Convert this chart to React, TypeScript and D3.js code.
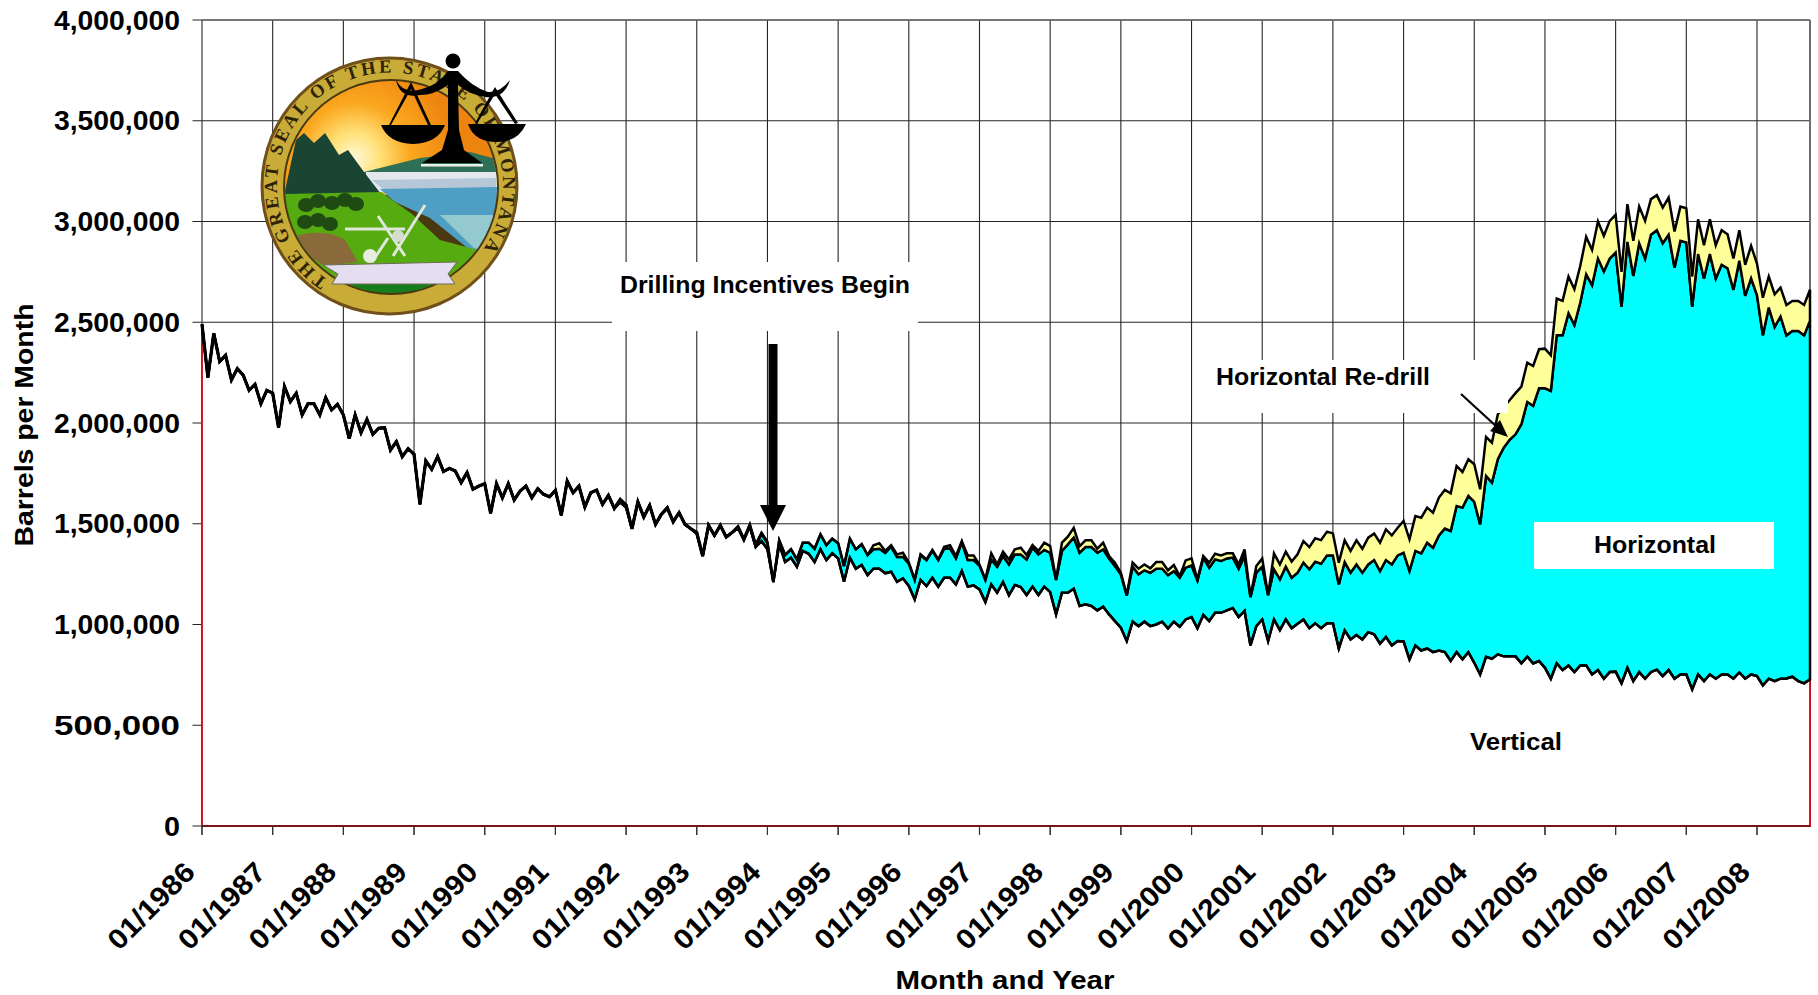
import React from "react";
import * as d3 from "d3";

// Monthly levels, thousand barrels per month (cumulative tops of each band)
const verticalTop = [
  2490,2225,2445,2305,2336,2214,2270,2237,2162,2192,2096,2162,
  2148,1977,2181,2106,2148,2040,2096,2096,2040,2126,2065,2093,
  2040,1922,2040,1952,2018,1944,1974,1977,1866,1908,1833,1873,
  1845,1596,1812,1770,1833,1759,1775,1762,1704,1754,1671,1687,
  1699,1552,1699,1629,1699,1618,1662,1687,1629,1674,1646,1634,
  1666,1542,1712,1654,1687,1583,1654,1667,1596,1641,1576,1606,
  1580,1475,1609,1533,1591,1497,1547,1575,1510,1555,1497,1475,
  1450,1340,1492,1442,1492,1434,1456,1478,1422,1485,1385,1414,
  1373,1211,1398,1310,1331,1287,1365,1351,1310,1373,1320,1353,
  1328,1212,1331,1277,1295,1245,1277,1277,1254,1262,1212,1229,
  1191,1125,1221,1191,1232,1188,1232,1232,1199,1265,1188,1194,
  1174,1111,1199,1158,1211,1145,1196,1186,1146,1188,1146,1188,
  1161,1050,1158,1158,1178,1092,1100,1092,1070,1088,1050,1017,
  984,918,1014,992,1014,992,1000,1014,981,1014,989,1025,
  1037,981,1047,1017,1058,1058,1070,1082,1037,1067,896,992,
  1025,918,1025,972,1025,982,1004,1025,982,1006,982,1006,
  1006,881,971,926,948,926,962,951,905,938,896,918,
  916,827,896,871,881,863,871,863,819,863,827,863,
  810,752,840,830,852,842,842,842,807,840,807,819,
  785,731,807,774,797,764,797,797,752,774,731,764,
  766,708,785,719,764,731,764,776,744,774,731,752,
  752,678,752,719,752,731,752,752,731,762,731,752,
  744,698,731,719,731,732,741,719,708,728,
];
const horizontalTop = [
  2490,2225,2445,2305,2336,2214,2270,2237,2162,2192,2096,2162,
  2148,1977,2181,2106,2148,2040,2096,2096,2040,2126,2065,2093,
  2040,1922,2040,1952,2018,1944,1974,1977,1866,1908,1833,1873,
  1845,1596,1812,1770,1833,1759,1775,1762,1704,1754,1671,1687,
  1699,1552,1699,1629,1699,1618,1662,1687,1629,1674,1646,1634,
  1666,1542,1712,1654,1687,1583,1654,1667,1596,1641,1576,1621,
  1593,1475,1609,1533,1591,1497,1547,1580,1510,1555,1497,1475,
  1456,1340,1492,1442,1492,1434,1456,1485,1422,1492,1393,1452,
  1406,1211,1418,1345,1373,1323,1406,1406,1376,1447,1394,1426,
  1403,1290,1426,1373,1398,1345,1373,1376,1356,1386,1335,1336,
  1302,1221,1345,1320,1366,1320,1376,1378,1328,1409,1320,1320,
  1293,1221,1323,1287,1340,1298,1348,1348,1323,1381,1348,1370,
  1356,1221,1365,1398,1431,1356,1384,1384,1356,1373,1327,1290,
  1249,1144,1287,1249,1269,1257,1277,1277,1245,1265,1232,1282,
  1293,1219,1332,1282,1323,1315,1328,1332,1277,1340,1136,1257,
  1287,1145,1274,1224,1287,1232,1257,1307,1274,1312,1302,1343,
  1343,1199,1310,1257,1298,1257,1298,1320,1265,1320,1298,1343,
  1356,1265,1365,1353,1406,1381,1442,1476,1464,1588,1580,1638,
  1608,1497,1737,1704,1820,1878,1916,1944,1994,2104,2085,2172,
  2172,2159,2435,2435,2545,2487,2598,2738,2684,2816,2752,2816,
  2846,2576,2899,2730,2892,2816,2934,2957,2892,2934,2771,2904,
  2896,2576,2838,2717,2838,2717,2785,2768,2661,2805,2631,2718,
  2634,2435,2573,2477,2528,2435,2457,2457,2435,2507,
];
const redrillTop = [
  2490,2225,2445,2305,2336,2214,2270,2237,2162,2192,2096,2162,
  2148,1977,2181,2106,2148,2040,2096,2096,2040,2126,2065,2093,
  2040,1922,2040,1952,2018,1944,1974,1977,1866,1908,1833,1873,
  1845,1596,1812,1770,1833,1759,1775,1762,1704,1754,1671,1687,
  1699,1552,1699,1629,1699,1618,1662,1687,1629,1674,1646,1634,
  1666,1542,1712,1654,1687,1583,1654,1667,1596,1641,1576,1621,
  1593,1475,1609,1533,1591,1497,1547,1580,1510,1555,1497,1475,
  1456,1340,1492,1442,1492,1434,1456,1485,1422,1492,1393,1452,
  1406,1211,1418,1345,1373,1323,1406,1406,1376,1447,1394,1426,
  1403,1290,1426,1373,1398,1345,1393,1403,1365,1393,1348,1356,
  1307,1224,1348,1323,1370,1323,1386,1393,1340,1414,1343,1343,
  1298,1224,1353,1298,1361,1323,1373,1381,1345,1394,1365,1406,
  1389,1224,1406,1436,1480,1389,1418,1418,1376,1406,1340,1307,
  1257,1146,1307,1277,1298,1279,1310,1310,1269,1295,1240,1318,
  1328,1224,1340,1307,1351,1343,1353,1353,1298,1373,1138,1290,
  1327,1145,1353,1298,1361,1312,1348,1414,1384,1428,1419,1461,
  1452,1307,1418,1365,1418,1376,1431,1451,1406,1472,1442,1480,
  1514,1423,1538,1530,1580,1555,1630,1668,1651,1787,1757,1820,
  1795,1671,1931,1902,2043,2080,2113,2148,2181,2300,2283,2366,
  2369,2336,2618,2606,2727,2664,2780,2924,2859,3000,2929,3003,
  3033,2750,3086,2904,3074,3003,3111,3131,3069,3119,2950,3074,
  3066,2727,3011,2882,3011,2882,2957,2937,2816,2957,2785,2879,
  2791,2622,2727,2639,2672,2586,2606,2606,2586,2661,
];
const yearTicks = [1986,1987,1988,1989,1990,1991,1992,1993,1994,1995,1996,1997,1998,1999,2000,2001,2002,2003,2004,2005,2006,2007,2008];
const valueTicks = [0,500000,1000000,1500000,2000000,2500000,3000000,3500000,4000000];
const seriesKeys = ["Vertical","Horizontal","Horizontal Re-drill"];
const seriesFill = ["#ffffff","#00ffff","#ffff99"];
const seriesStroke = ["#d8000f","#000000","#000000"];

const FONT = "'Liberation Sans', Arial, sans-serif";
const rows = verticalTop.map((v, i) => ({
  i,
  Vertical: v * 1000,
  Horizontal: (horizontalTop[i] - v) * 1000,
  "Horizontal Re-drill": (redrillTop[i] - horizontalTop[i]) * 1000,
}));

const x = d3.scalePoint<number>().domain(rows.map((r) => r.i)).range([202, 1810]);
const y = d3.scaleLinear().domain([0, 4000000]).range([826, 20]);
const stacked = d3.stack<any>().keys(seriesKeys)(rows);
const area = d3.area<any>().x((d) => x(d.data.i) as number).y0((d) => y(d[0])).y1((d) => y(d[1]));
const topLine = d3.line<any>().x((d) => x(d.data.i) as number).y((d) => y(d[1]));
const fmt = d3.format(",");

function Seal() {
  const ringText = "THE GREAT SEAL OF THE STATE OF MONTANA";
  return (
    <g>
      <defs>
        <radialGradient id="sky" gradientUnits="userSpaceOnUse" cx="355" cy="158" r="100">
          <stop offset="0" stopColor="#fff8d8" />
          <stop offset="0.25" stopColor="#ffe27a" />
          <stop offset="0.55" stopColor="#fba81f" />
          <stop offset="1" stopColor="#ee8410" />
        </radialGradient>
        <clipPath id="sealInner"><ellipse cx="391" cy="187" rx="106" ry="106" /></clipPath>
        <path id="sealRing" d="M 328 280 A 113 113 0 1 1 452 280" fill="none" />
      </defs>
      <ellipse cx="389.5" cy="186" rx="129" ry="129.5" fill="#6f4f1a" />
      <ellipse cx="389.5" cy="186" rx="126" ry="126.5" fill="#c9ab38" />
      <ellipse cx="391" cy="187" rx="108" ry="108" fill="#4a3810" />
      <g clipPath="url(#sealInner)">
        <rect x="280" y="75" width="225" height="120" fill="url(#sky)" />
        <path d="M 364 172 L 420 158 L 470 152 L 500 160 L 500 180 L 364 180 Z" fill="#2f6f55" />
        <rect x="366" y="172" width="136" height="20" fill="#e2e8ee" />
        <path d="M 372 180 L 496 178 L 496 188 L 384 190 Z" fill="#b6c7d8" />
        <path d="M 380 189 L 500 187 L 500 262 L 470 250 L 430 218 L 395 202 Z" fill="#4f9fc4" />
        <path d="M 440 215 L 500 215 L 500 255 L 474 248 Z" fill="#93c9cf" />
        <path d="M 284 195 L 296 140 L 304 133 L 314 143 L 325 133 L 339 155 L 348 150 L 364 172 L 381 194 Z" fill="#1a4533" />
        <path d="M 282 194 L 381 192 L 412 214 L 440 240 L 478 250 L 470 272 L 440 290 L 340 290 L 300 260 Z" fill="#55ab10" />
        <path d="M 340 272 L 450 272 L 430 296 L 360 296 Z" fill="#167d1c" />
        <path d="M 296 236 Q 325 228 345 240 L 358 262 L 325 266 L 302 252 Z" fill="#8a6a3a" />
        {[[306,205],[318,201],[332,203],[345,200],[356,204],[305,222],[318,220],[330,224]].map(([cx, cy], k) => (
          <ellipse key={k} cx={cx} cy={cy} rx="8" ry="7" fill="#1f4a14" />
        ))}
        <path d="M 345 229 L 405 229 M 378 216 L 405 256 M 425 205 L 393 256 M 372 262 L 388 238" stroke="#dfe6da" strokeWidth="3" fill="none" />
        <circle cx="370" cy="256" r="7" fill="#e6ece0" />
        <circle cx="398" cy="236" r="6" fill="#d6dcd0" />
      </g>
      <path d="M 323 265 L 457 262 L 448 274 L 455 284 L 386 284 L 332 284 L 338 274 Z" fill="#e4def0" stroke="#6f6a55" strokeWidth="1" />
      <text fontFamily="'Liberation Serif', serif" fontWeight="bold" fontSize="18.5" fill="#2e2308" letterSpacing="2.9">
        <textPath href="#sealRing">{ringText}</textPath>
      </text>
      <g fill="#000000" stroke="none">
        <path d="M 411 82 L 389 125 L 391 125 L 411 89 L 428 125 L 431 125 Z" />
        <path d="M 495 87 L 475 123 L 477 124 L 495 94 L 515 124 L 518 123 Z" />
        <circle cx="453" cy="61" r="7.5" />
        <path d="M 396 80 Q 404 95 422 89 Q 438 85 448 71 L 458 71 Q 472 87 488 92 Q 500 93 510 80 Q 504 99 486 97 Q 470 95 458 85 L 459 130 L 464 150 L 482 163 L 422 163 L 442 150 L 448 130 L 448 85 Q 434 95 420 95 Q 400 99 396 80 Z" />
        <path d="M 381 125 L 445 125 Q 438 143 413 144 Q 388 143 381 125 Z" />
        <path d="M 468 124 L 526 124 Q 518 142 497 142 Q 474 142 468 124 Z" />
      </g>
      <rect x="421" y="164" width="62" height="2.5" fill="#eef0ee" />
    </g>
  );
}

export default function App() {
  const last = rows.length - 1;
  const xEnd = x(last) as number;
  const earlyPath = d3.line<any>().x((d) => x(d.data.i) as number).y((d) => y(d[1])).defined((d: any) => d.data.i <= 96)(stacked[2]) as string;
  return (
    <svg width={1818} height={995} viewBox="0 0 1818 995" style={{ position: "absolute", left: 0, top: 0, background: "#fff" }} fontFamily={FONT} fontWeight="bold">
      {/* grid */}
      <g stroke="#000" strokeWidth="1.1" opacity="0.85">
        {valueTicks.map((t) => (
          <line key={t} x1={192.5} x2={xEnd} y1={y(t)} y2={y(t)} />
        ))}
        {yearTicks.map((yr, k) => {
          const px = x(k * 12) as number;
          return <line key={yr} x1={px} x2={px} y1={y(4000000)} y2={y(0) + 9} />;
        })}
        <line x1={xEnd} x2={xEnd} y1={y(4000000)} y2={y(0)} stroke="#555" strokeWidth="2" />
        <line x1={202} x2={xEnd} y1={y(4000000)} y2={y(4000000)} stroke="#555" strokeWidth="1.6" />
      </g>

      <Seal />

      {/* stacked bands */}
      {stacked.map((s, k) => (
        <path key={s.key} d={area(s) as string} fill={seriesFill[k]} stroke={seriesStroke[k]} strokeWidth={k === 0 ? 1.8 : 2.5} strokeLinejoin="miter" />
      ))}
      <path d={topLine(stacked[0]) as string} fill="none" stroke="#000" strokeWidth="2.5" />
      <path d={earlyPath} fill="none" stroke="#000" strokeWidth="3.2" />
      <line x1={202} x2={xEnd} y1={y(0)} y2={y(0)} stroke="#5a1a1a" strokeWidth="1.4" />

      {/* tick stubs below the white area */}
      <g stroke="#333" strokeWidth="1.1">
        {yearTicks.map((yr, k) => {
          const px = x(k * 12) as number;
          return <line key={yr} x1={px} x2={px} y1={y(0)} y2={y(0) + 9} />;
        })}
      </g>

      {/* annotation boxes */}
      <rect x={612} y={262} width={306} height={69} fill="#fff" />
      <rect x={1194} y={360} width={314} height={53} fill="#fff" />
      <rect x={1534} y={522} width={240} height={47} fill="#fff" />

      <text x={765} y={285} textAnchor="middle" dominantBaseline="central" fontSize="23.5" textLength={290} lengthAdjust="spacingAndGlyphs">Drilling Incentives Begin</text>
      <text x={1323} y={377} textAnchor="middle" dominantBaseline="central" fontSize="23.5" textLength={214} lengthAdjust="spacingAndGlyphs">Horizontal Re-drill</text>
      <text x={1655} y={545} textAnchor="middle" dominantBaseline="central" fontSize="23.5" textLength={122} lengthAdjust="spacingAndGlyphs">Horizontal</text>
      <text x={1516} y={742} textAnchor="middle" dominantBaseline="central" fontSize="23.5" textLength={92} lengthAdjust="spacingAndGlyphs">Vertical</text>

      {/* arrows */}
      <path d="M 768.5 344 L 777.5 344 L 777.5 505 L 786 505 L 773 531 L 760 505 L 768.5 505 Z" fill="#000" />
      <line x1={1461} y1={394} x2={1497} y2={427} stroke="#000" strokeWidth="2.2" />
      <path d="M 1508 437 L 1490 431 L 1500 420 Z" fill="#000" />

      {/* y labels */}
      {valueTicks.map((t) => (
        <text key={t} x={180} y={y(t)} textAnchor="end" dominantBaseline="central" fontSize="28" textLength={t === 0 ? 16 : 126} lengthAdjust="spacingAndGlyphs">
          {fmt(t)}
        </text>
      ))}

      {/* x labels */}
      {yearTicks.map((yr, k) => {
        const px = (x(k * 12) as number) - 12;
        return (
          <text key={yr} transform={`translate(${px},867) rotate(-45)`} textAnchor="end" dominantBaseline="central" fontSize="28" textLength={110} lengthAdjust="spacingAndGlyphs">
            {`01/${yr}`}
          </text>
        );
      })}

      <text transform="translate(24,425) rotate(-90)" textAnchor="middle" dominantBaseline="central" fontSize="26.5" textLength={243} lengthAdjust="spacingAndGlyphs">Barrels per Month</text>
      <text x={1005} y={980} textAnchor="middle" dominantBaseline="central" fontSize="26.5" textLength={219} lengthAdjust="spacingAndGlyphs">Month and Year</text>
    </svg>
  );
}
